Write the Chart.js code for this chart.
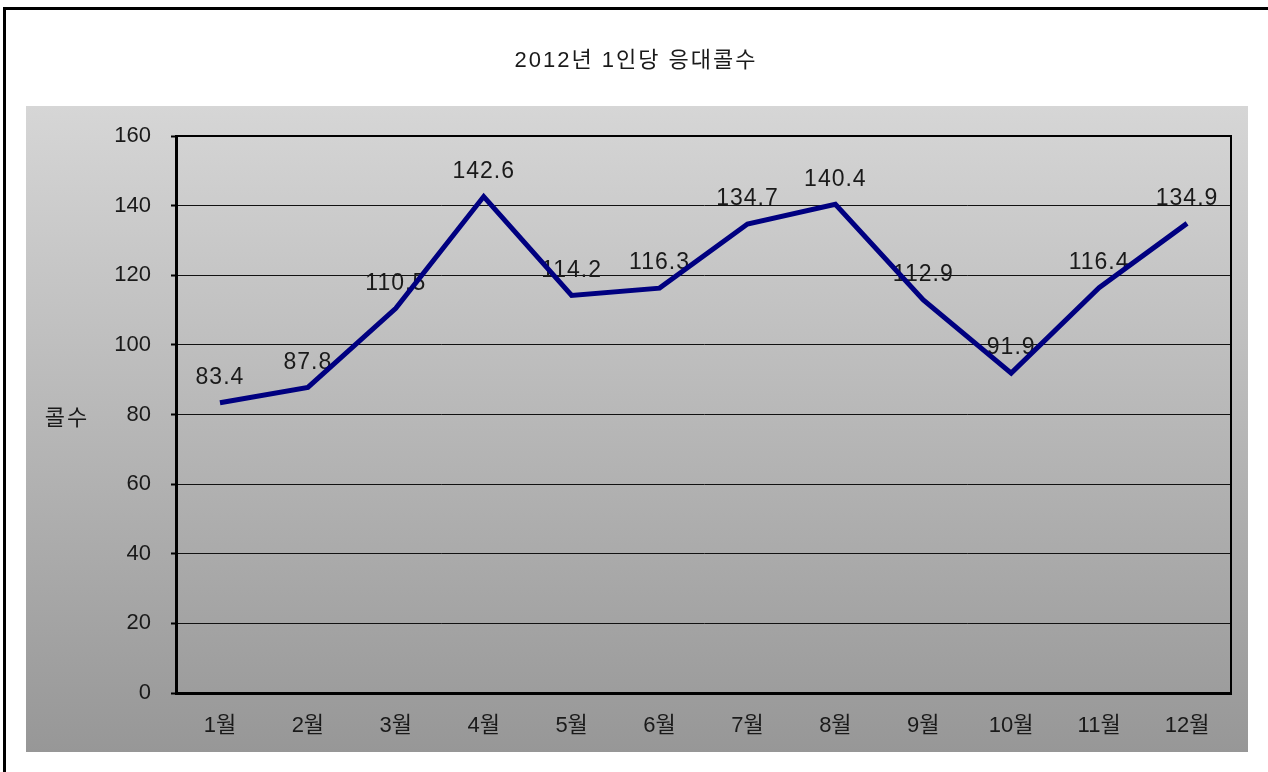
<!DOCTYPE html>
<html>
<head>
<meta charset="utf-8">
<script src="https://cdn.jsdelivr.net/npm/chart.js@4/dist/chart.umd.min.js"></script>
<style>
html,body{margin:0;padding:0;background:#fff;}
#wrap{width:1268px;height:772px;position:relative;}
</style>
</head>
<body>
<div id="wrap"><canvas id="c" width="1268" height="772"></canvas></div>
<script>
const chartTitle = '2012년 1인당 응대콜수';
const yAxisTitle = '콜수';
const categories = ['1월','2월','3월','4월','5월','6월','7월','8월','9월','10월','11월','12월'];
const callsPerPerson = [83.4, 87.8, 110.5, 142.6, 114.2, 116.3, 134.7, 140.4, 112.9, 91.9, 116.4, 134.9];
const yTicks = [0, 20, 40, 60, 80, 100, 120, 140, 160];

const FONT = '"Liberation Sans", "Noto Sans CJK KR", sans-serif';

const framePlugin = {
  id: 'frame',
  beforeDraw(chart) {
    const ctx = chart.ctx;
    ctx.save();
    ctx.fillStyle = '#ffffff';
    ctx.fillRect(0, 0, chart.width, chart.height);
    // outer border (left & top visible)
    ctx.fillStyle = '#000';
    ctx.fillRect(3, 7, 3, chart.height - 7);
    ctx.fillRect(3, 7, chart.width - 3, 3);
    // gray gradient panel
    const g = ctx.createLinearGradient(0, 106, 0, 752);
    g.addColorStop(0, '#d6d6d6');
    g.addColorStop(1, '#979797');
    ctx.fillStyle = g;
    ctx.fillRect(26, 106, 1222, 646);
    // title
    ctx.fillStyle = '#1a1a1a';
    ctx.textAlign = 'center';
    ctx.textBaseline = 'middle';
    ctx.font = '22px ' + FONT;
    if ('letterSpacing' in ctx) ctx.letterSpacing = '2px';
    ctx.fillText(chartTitle, 636, 61);
    // y axis title
    ctx.fillText(yAxisTitle, 67, 419);
    if ('letterSpacing' in ctx) ctx.letterSpacing = '0px';
    ctx.restore();
  },
  afterDraw(chart) {
    const ctx = chart.ctx;
    const a = chart.chartArea;
    ctx.save();
    ctx.strokeStyle = '#000';
    ctx.lineWidth = 2;
    ctx.beginPath();
    ctx.moveTo(a.right, a.top - 1);
    ctx.lineTo(a.right, a.bottom);
    ctx.stroke();
    ctx.beginPath();
    ctx.moveTo(a.left, a.top);
    ctx.lineTo(a.right + 1, a.top);
    ctx.stroke();
    ctx.restore();
  }
};

const labelPlugin = {
  id: 'valueLabels',
  beforeDatasetsDraw(chart) {
    const ctx = chart.ctx;
    const meta = chart.getDatasetMeta(0);
    ctx.save();
    ctx.fillStyle = '#1a1a1a';
    ctx.font = '23px ' + FONT;
    ctx.textAlign = 'center';
    ctx.textBaseline = 'middle';
    if ('letterSpacing' in ctx) ctx.letterSpacing = '1px';
    meta.data.forEach((pt, i) => {
      ctx.fillText(callsPerPerson[i].toFixed(1), pt.x, pt.y - 25);
    });
    ctx.restore();
  }
};

new Chart(document.getElementById('c'), {
  type: 'line',
  data: {
    labels: categories,
    datasets: [{
      data: callsPerPerson,
      borderColor: '#000080',
      borderWidth: 5,
      pointRadius: 0,
      tension: 0,
      fill: false
    }]
  },
  options: {
    responsive: false,
    animation: false,
    devicePixelRatio: 1,
    layout: { padding: { top: 136, right: 37, bottom: 0, left: 0 } },
    plugins: { legend: { display: false }, tooltip: { enabled: false }, title: { display: false } },
    scales: {
      x: {
        offset: true,
        grid: { display: false },
        border: { display: true, color: '#000', width: 3 },
        ticks: { color: '#1a1a1a', font: { size: 22, family: FONT }, padding: 12, maxRotation: 0 },
        afterFit(s) { s.height = 79; }
      },
      y: {
        min: 0, max: 160,
        afterBuildTicks(s) { s.ticks = yTicks.map(v => ({ value: v })); },
        grid: { color: '#111', lineWidth: 1, tickLength: 5, tickColor: '#000', tickWidth: 2 },
        border: { display: true, color: '#000', width: 3 },
        ticks: { color: '#1a1a1a', font: { size: 22, family: FONT }, padding: 20 },
        afterFit(s) { s.width = 176; }
      }
    }
  },
  plugins: [framePlugin, labelPlugin]
});
</script>
</body>
</html>
